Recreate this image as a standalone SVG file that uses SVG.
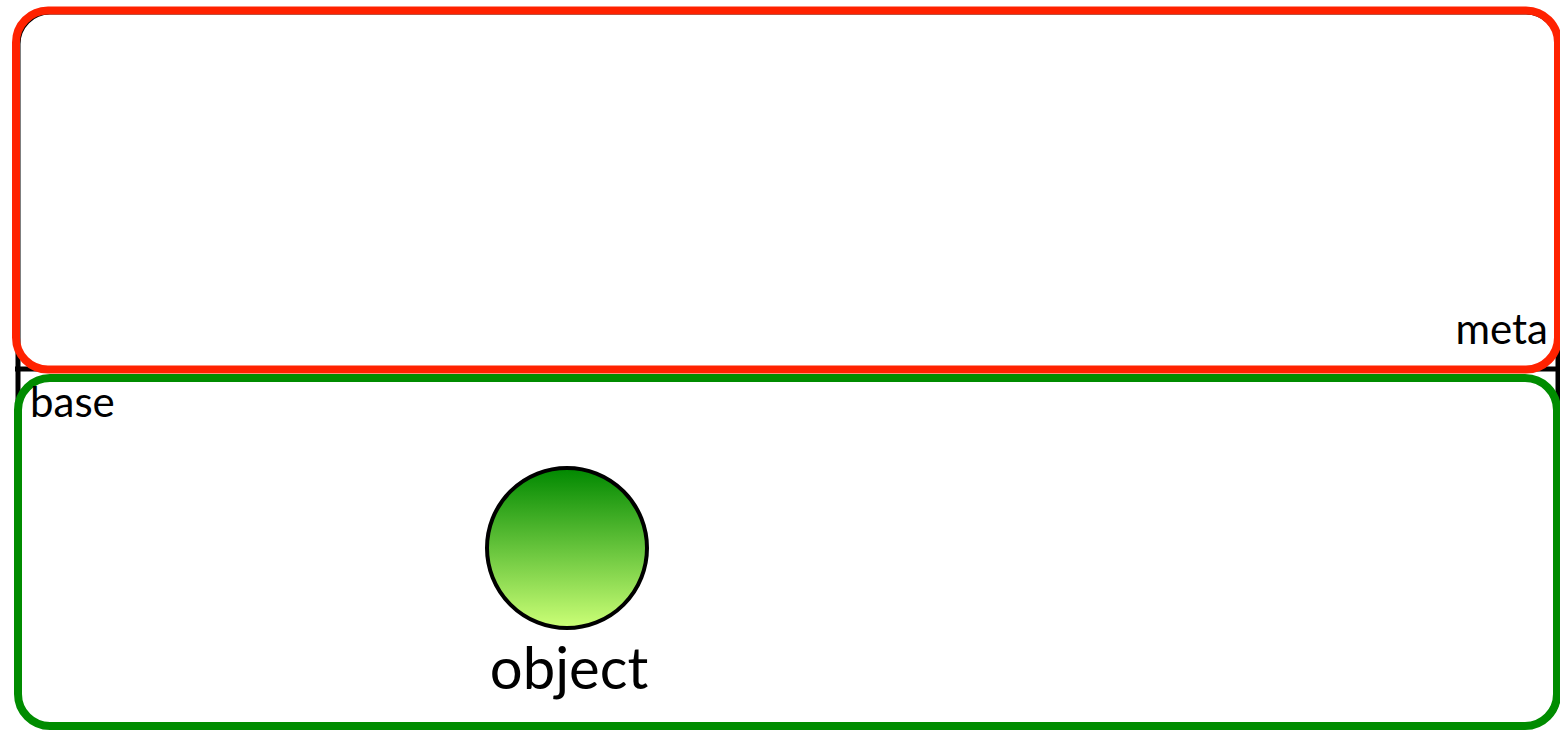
<svg xmlns="http://www.w3.org/2000/svg" width="1560" height="730" viewBox="0 0 1560 730">
<style>
.frame{fill:none;stroke:#000;stroke-width:5}
.lane{fill:none;stroke-width:8}
.lbl{font-family:Lato,"Open Sans",sans-serif;fill:#000}
</style>
<defs>
<linearGradient id="g" x1="0" y1="0" x2="0" y2="1">
<stop offset="0" stop-color="#008800"/>
<stop offset="1" stop-color="#ccff77"/>
</linearGradient>
</defs>
<rect width="1560" height="730" fill="#fff"/>
<g id="pool">
<rect class="frame" x="18" y="12" width="1540" height="714" rx="32"/>
<line class="frame" x1="15" y1="369" x2="1558" y2="369"/>
</g>
<g id="meta">
<rect class="lane" x="16" y="10.5" width="1542" height="359" rx="32" stroke="#ff2200"/>
<text class="lbl" x="1548" y="344" font-size="42" text-anchor="end">meta</text>
</g>
<g id="base">
<rect class="lane" x="18" y="378" width="1539" height="348" rx="32" stroke="#008c00"/>
<text class="lbl" x="30" y="417" font-size="42">base</text>
</g>
<g id="connectors"></g>
<g id="object">
<circle cx="567" cy="548" r="80" fill="url(#g)" stroke="#000" stroke-width="4"/>
<text class="lbl" x="569" y="689" font-size="58" text-anchor="middle">object</text>
</g>
</svg>
